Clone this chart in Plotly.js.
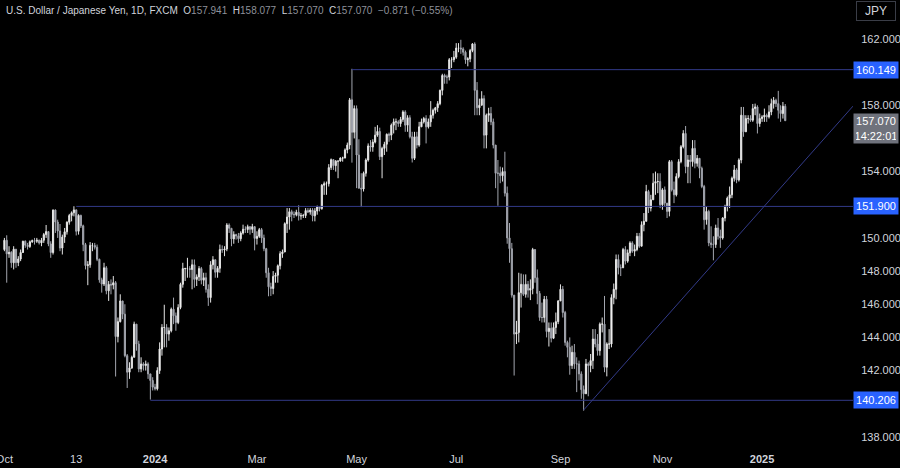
<!DOCTYPE html>
<html><head><meta charset="utf-8">
<script src="https://cdn.plot.ly/plotly-3.0.1.min.js"></script>
<style>html,body{margin:0;padding:0;background:#000;}#chart{width:900px;height:468px;}</style>
</head><body><div id="chart"></div>
<script>
// USD/JPY daily, FXCM — trading days from 2 Oct 2023 to 15 Jan 2025
const firstOpen = 149.30;
const closes = [
 149.86,149.04,149.13,148.50,149.32,148.51,148.73,149.12,149.80,149.56,149.48,149.77,149.83,149.80,149.86,149.70,149.86,150.20,150.38,149.64,149.12,151.68,
 150.96,150.42,149.39,150.05,150.37,150.95,151.35,151.52,151.69,150.40,151.36,150.73,149.60,148.33,148.38,149.55,149.55,149.44,148.71,147.47,147.22,148.20,
 146.81,147.20,147.16,147.30,144.05,144.95,146.20,145.40,142.90,141.90,142.16,142.80,144.80,143.60,142.10,142.40,142.30,142.40,141.80,141.40,141.00,
 140.90,142.00,143.30,144.60,144.60,144.20,144.40,145.70,145.30,144.90,145.80,147.20,148.15,148.15,148.15,148.10,148.38,147.50,147.65,148.15,147.45,147.60,146.90,
 146.40,148.38,148.68,147.93,148.17,149.30,149.28,149.33,150.78,150.58,149.94,150.20,150.12,149.95,150.29,150.52,150.51,150.68,150.52,150.68,149.97,
 150.10,150.50,150.00,149.35,147.90,147.05,146.95,147.68,147.75,148.32,149.05,149.15,150.86,151.26,151.58,151.42,151.40,151.55,151.33,151.34,151.35,
 151.65,151.56,151.68,151.33,151.62,151.86,151.77,153.18,153.27,153.27,154.24,154.72,154.36,154.63,154.64,154.82,154.82,155.31,155.60,158.33,156.37,157.80,
 155.00,153.00,152.95,153.90,154.70,155.55,155.48,155.78,156.20,156.42,154.90,155.40,155.65,156.25,156.20,156.80,157.00,157.00,156.90,157.15,157.60,156.80,157.25,
 156.10,154.80,156.10,155.60,156.70,157.00,157.20,156.70,157.00,157.40,157.70,157.85,158.10,158.90,159.80,159.70,159.70,160.75,160.75,160.90,
 161.45,161.45,161.40,161.20,160.75,160.80,161.30,161.70,158.90,157.85,158.00,158.40,156.20,157.40,157.50,157.00,155.60,153.90,153.90,153.75,154.00,152.70,150.00,
 149.35,146.55,144.20,144.30,146.70,147.20,146.60,147.20,146.85,146.95,149.30,147.60,146.65,145.20,145.20,146.30,144.35,144.55,143.95,144.60,144.95,146.20,
 146.90,145.50,143.70,143.40,142.30,143.10,142.40,142.40,141.80,140.85,140.60,142.40,142.30,142.60,143.90,143.60,143.20,144.80,144.80,142.20,143.60,
 143.60,146.40,146.90,148.70,148.20,148.20,149.30,148.60,149.10,149.70,149.20,149.30,150.10,149.50,150.80,151.00,152.80,151.80,152.30,153.30,153.40,153.40,152.00,
 152.90,152.10,151.60,154.60,152.90,152.60,153.70,154.60,155.50,156.30,154.30,154.70,154.60,155.40,154.50,154.80,154.20,153.10,151.10,151.60,149.70,
 149.60,149.60,150.60,150.10,150.00,151.20,151.90,152.40,152.60,153.60,154.10,153.50,154.70,157.40,156.40,157.20,157.20,157.10,157.80,157.90,156.90,157.20,
 157.30,157.40,157.30,157.60,158.10,158.30,158.10,157.70,157.50,157.941,157.070
];
const highs = [
 150.00,150.16,149.50,149.20,149.50,149.30,148.90,149.30,149.83,149.85,149.70,149.85,149.90,150.00,150.00,149.90,150.00,150.30,150.78,150.40,149.80,151.72,
 151.72,151.10,150.84,150.20,150.60,151.00,151.45,151.60,151.91,151.72,151.43,151.40,150.80,149.70,148.60,149.75,149.70,149.70,149.60,148.75,147.60,148.50,
 148.30,147.40,147.50,147.70,147.40,145.20,146.60,146.00,146.00,143.00,142.50,142.90,144.95,144.20,143.80,142.80,142.50,142.60,142.50,141.80,141.60,
 141.20,142.20,143.70,144.80,145.97,144.80,144.60,145.80,146.40,145.50,146.00,147.30,148.50,148.20,148.80,148.30,148.70,148.70,147.80,148.30,148.25,147.90,147.90,
 147.20,148.60,148.90,148.70,148.30,149.60,149.55,149.50,150.89,150.88,150.60,150.40,150.25,150.30,150.40,150.80,150.70,150.80,150.70,150.85,150.70,
 150.40,150.60,150.60,150.20,149.40,148.20,147.30,148.00,147.90,148.40,149.20,149.30,150.94,151.80,151.80,151.70,151.60,151.70,151.97,151.50,151.45,
 151.80,151.80,151.80,151.80,151.80,151.95,151.90,153.25,153.40,153.40,154.45,154.79,154.75,154.70,154.65,154.86,154.90,155.40,155.75,158.44,160.20,157.99,
 157.99,155.95,153.90,154.00,154.80,155.70,155.90,155.95,156.70,156.80,156.65,155.50,155.80,156.30,156.35,156.90,157.20,157.20,157.10,157.30,157.70,157.70,157.40,
 157.40,156.40,156.40,156.40,157.00,157.20,157.30,157.40,157.20,158.25,157.80,157.90,158.25,158.95,159.90,159.90,159.85,160.85,160.90,161.28,
 161.75,161.75,161.95,161.50,161.30,160.90,161.40,161.75,161.80,159.40,158.40,158.85,158.60,157.50,157.85,157.90,157.20,155.60,154.70,154.30,154.25,155.20,153.10,
 150.90,149.70,146.50,145.00,147.90,147.85,147.80,147.80,147.40,147.50,149.40,149.00,148.10,146.80,146.10,146.50,146.50,144.90,144.90,144.90,145.50,146.25,
 147.20,147.10,145.60,143.80,144.00,143.50,143.60,142.80,142.60,141.95,141.10,142.70,142.50,143.00,144.50,144.50,144.20,144.90,145.20,146.50,143.70,
 144.50,146.60,147.25,149.00,149.00,148.40,149.40,149.50,149.30,149.80,149.80,149.60,150.30,150.30,151.00,151.50,153.20,152.90,152.60,153.90,154.00,153.90,153.90,
 153.00,153.10,152.00,154.70,154.70,153.40,153.90,154.75,155.60,156.50,156.75,155.00,155.00,155.90,155.90,155.00,154.80,154.30,153.20,151.90,151.70,
 150.70,150.10,150.80,151.20,150.50,151.25,152.00,152.50,153.10,153.70,154.40,154.20,154.80,157.90,157.90,157.40,157.40,157.40,158.08,158.10,158.00,157.50,
 157.40,157.80,157.50,158.00,158.40,158.50,158.40,158.87,158.00,158.20,158.077
];
const lows = [
 149.20,147.30,148.80,148.20,148.10,148.20,148.30,148.60,149.10,149.40,149.30,149.40,149.70,149.60,149.70,149.60,149.50,149.70,150.00,149.50,148.80,149.00,
 150.30,150.00,149.20,149.00,149.70,150.20,150.80,151.00,151.30,150.15,150.20,150.60,149.20,148.10,147.15,148.20,149.20,149.30,148.60,147.30,146.70,147.10,
 146.60,146.20,146.60,146.90,141.64,143.70,144.90,145.10,142.80,140.95,141.50,142.10,142.80,143.20,141.90,141.90,142.00,142.00,141.50,140.25,140.80,
 140.80,140.80,141.80,142.90,143.40,143.40,143.80,144.30,144.80,144.40,144.80,145.70,147.00,147.40,147.60,147.60,146.90,147.00,147.10,147.40,147.20,147.10,146.70,
 145.90,146.10,148.10,147.60,147.60,147.90,149.10,148.90,149.20,150.30,149.50,149.65,149.90,149.70,149.80,150.20,150.30,150.30,150.20,150.30,149.25,
 149.60,150.00,149.70,149.20,147.60,146.48,146.50,146.60,147.30,147.30,148.10,148.80,149.20,150.30,150.50,151.00,151.20,151.30,151.05,151.10,151.20,
 151.20,151.50,151.40,151.00,151.00,151.40,151.60,151.70,152.60,152.60,153.10,154.10,154.10,154.00,153.60,154.60,154.60,154.80,155.10,155.35,154.54,156.00,
 153.00,152.98,151.86,152.80,153.70,154.60,155.20,155.20,155.70,156.10,154.70,153.60,155.00,155.20,155.80,155.90,156.30,156.50,156.70,156.70,157.00,156.40,156.40,
 156.00,154.55,154.70,155.40,155.50,156.80,156.90,155.70,156.60,156.70,157.20,157.50,157.60,158.00,158.60,159.30,159.30,159.50,160.25,160.60,
 160.80,161.20,161.10,161.00,160.50,160.35,160.60,161.20,157.40,157.40,157.40,158.00,155.40,155.40,157.00,156.80,155.40,153.00,151.94,153.30,153.40,152.50,149.65,
 148.50,146.40,141.70,143.60,143.70,145.80,146.50,146.40,146.40,146.25,146.60,147.30,146.00,145.00,144.90,144.90,144.00,143.45,143.70,143.90,144.20,144.80,
 146.20,145.20,143.50,142.80,141.75,142.10,142.10,140.70,141.40,140.30,139.58,140.60,140.45,141.90,142.10,143.40,142.90,142.90,144.30,141.90,141.65,
 143.30,143.40,146.00,146.30,147.80,147.70,148.20,148.40,148.50,148.90,149.10,148.90,149.20,149.40,149.50,150.40,151.00,151.50,151.60,152.60,152.60,152.70,151.80,
 151.70,151.90,151.20,151.30,152.80,152.10,152.50,153.60,154.50,155.40,153.90,153.30,153.30,154.30,154.20,154.30,153.60,153.00,150.50,150.80,149.50,
 149.40,148.65,149.40,149.90,149.40,149.90,151.00,151.60,151.80,152.40,153.40,153.30,153.40,154.50,156.10,156.40,156.90,157.00,157.00,157.40,156.30,156.70,
 157.00,157.00,157.00,157.20,157.40,157.80,157.90,157.20,157.00,157.20,157.070
];

// time axis labels (bar index of first bar of each labelled period)
const tickIdx  = [0, 31, 65, 109, 152, 195, 240, 284, 327];
const tickText = ['Oct', '13', '<b>2024</b>', 'Mar', 'May', 'Jul', 'Sep', 'Nov', '<b>2025</b>'];
// price scale labels that are visible (the others sit under the price boxes)
const priceTicks = [138, 142, 144, 146, 148, 150, 154, 158, 162];

// drawn levels
const levelVals  = [160.149, 151.900, 140.206];
const levelStart = [150, 31, 63];
const trendIdx  = [250, 306];
const trendVals = [139.62, 148.45];

// header / last price
const headerTitle = 'U.S. Dollar / Japanese Yen, 1D, FXCM';
const headerKeys = ['O', 'H', 'L', 'C'];
const headerVals = [157.941, 158.077, 157.070, 157.070];
const change = -0.871, changePct = -0.55;
const lastPrice = 157.070;
const countdown = '14:22:01';
const currency = 'JPY';

const FONT = '"Liberation Sans", Arial, sans-serif';
const TXT = '#d1d4dc';
const LINE = '#323a88';

const xs = closes.map((_, i) => i);
const opens = closes.map((c, i) => i === 0 ? firstOpen : closes[i - 1]);
const hi = highs.map((h, i) => Math.max(h, opens[i], closes[i]));
const lo = lows.map((l, i) => Math.min(l, opens[i], closes[i]));

const xr = [-1.9, 366.25];
const yr = [137.39, 164.35];

const trace = {
  type: 'candlestick', x: xs, open: opens, high: hi, low: lo, close: closes,
  increasing: {line: {color: '#e6e6e6', width: 1}, fillcolor: '#ffffff'},
  decreasing: {line: {color: '#a3a6af', width: 1}, fillcolor: '#a3a6af'},
  whiskerwidth: 0, hoverinfo: 'skip', showlegend: false
};

const shapes = levelVals.map((v, i) => ({
  type: 'line', xref: 'x', yref: 'y', x0: levelStart[i], x1: xr[1], y0: v, y1: v,
  line: {color: LINE, width: 1}
}));
const slope = (trendVals[1] - trendVals[0]) / (trendIdx[1] - trendIdx[0]);
shapes.push({type: 'line', xref: 'x', yref: 'y', x0: trendIdx[0], y0: trendVals[0],
  x1: xr[1], y1: trendVals[0] + slope * (xr[1] - trendIdx[0]), line: {color: LINE, width: 1}});

const nb = '\u00a0';
const gray = s => '<span style="color:#8e919a">' + s + '</span>';
let head = headerTitle + nb + nb;
headerKeys.forEach((k, i) => { head += k + gray(headerVals[i].toFixed(3)) + nb + nb; });
head += gray('\u2212' + Math.abs(change).toFixed(3) + ' (\u2212' + Math.abs(changePct).toFixed(2) + '%)');

const annotations = [
  {xref: 'paper', yref: 'paper', x: 0, y: 1, xanchor: 'left', yanchor: 'top', xshift: 4, yshift: -3,
   text: head, showarrow: false, align: 'left', font: {family: FONT, size: 10, color: TXT}},
  {xref: 'paper', yref: 'paper', x: 1, y: 1, xanchor: 'left', yanchor: 'top', xshift: 3, yshift: -1,
   text: currency, showarrow: false, width: 34, height: 14, borderpad: 2, bordercolor: '#3a3d47', borderwidth: 1,
   bgcolor: '#000000', font: {family: FONT, size: 12, color: TXT}},
  {xref: 'paper', yref: 'y', x: 1, y: lastPrice, xanchor: 'left', yanchor: 'top', yshift: 8,
   text: lastPrice.toFixed(3) + '<br>' + countdown, showarrow: false, width: 40, height: 25, borderpad: 2,
   bgcolor: '#6f727c', font: {family: FONT, size: 11, color: '#ffffff'}}
];
levelVals.forEach(v => annotations.push({
  xref: 'paper', yref: 'y', x: 1, y: v, xanchor: 'left', yanchor: 'middle',
  text: v.toFixed(3), showarrow: false, width: 40, height: 12, borderpad: 2,
  bgcolor: '#2962ff', font: {family: FONT, size: 11, color: '#ffffff'}
}));

const layout = {
  width: 900, height: 468,
  margin: {l: 0, r: 47, t: 0, b: 21},
  paper_bgcolor: '#000000', plot_bgcolor: '#000000',
  showlegend: false, dragmode: false,
  font: {family: FONT, color: TXT, size: 11},
  xaxis: {range: xr, type: 'linear', tickvals: tickIdx, ticktext: tickText,
    showgrid: false, zeroline: false, showline: false, ticklabeloverflow: 'allow',
    ticks: 'outside', ticklen: 2, tickcolor: 'rgba(0,0,0,0)',
    tickfont: {family: FONT, size: 11, color: TXT}, rangeslider: {visible: false}, fixedrange: true},
  yaxis: {range: yr, side: 'right', tickvals: priceTicks, ticktext: priceTicks.map(v => v.toFixed(3)),
    showgrid: false, zeroline: false, showline: false,
    ticks: 'outside', ticklen: 5, tickcolor: 'rgba(0,0,0,0)',
    tickfont: {family: FONT, size: 11, color: TXT}, fixedrange: true},
  shapes: shapes, annotations: annotations
};

Plotly.newPlot('chart', [trace], layout, {displayModeBar: false, staticPlot: true});
</script>
</body></html>
